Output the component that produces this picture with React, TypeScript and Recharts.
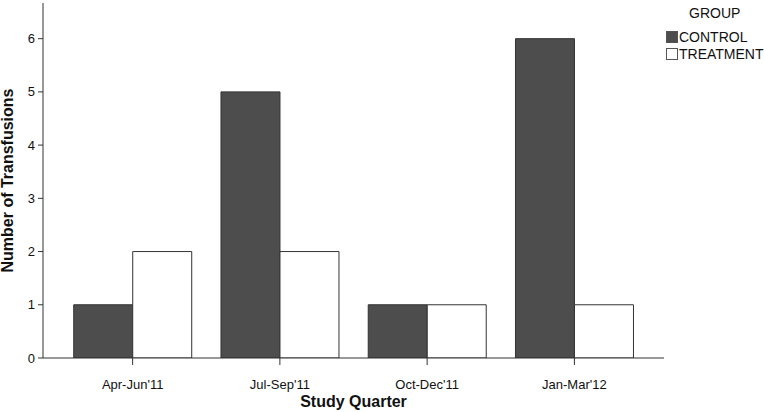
import React from 'react';
import { BarChart, Bar, XAxis, YAxis } from 'recharts';

const quarters = ["Apr-Jun'11", "Jul-Sep'11", "Oct-Dec'11", "Jan-Mar'12"];
const control = [1, 5, 1, 6];
const treatment = [2, 2, 1, 1];
const yTicks = [0, 1, 2, 3, 4, 5, 6];

const data = quarters.map((q, i) => ({ quarter: q, control: control[i], treatment: treatment[i] }));

const font = 'Arial, "Liberation Sans", sans-serif';

const GroupLegend = () => (
  <div style={{ position: 'absolute', left: 664, top: 5, fontFamily: font, fontSize: 14, color: '#111' }}>
    <div style={{ position: 'absolute', left: 25, top: 0, whiteSpace: 'nowrap' }}>GROUP</div>
    {[
      { label: 'CONTROL', fill: '#4d4d4d', top: 24 },
      { label: 'TREATMENT', fill: '#ffffff', top: 41 },
    ].map((g) => (
      <div key={g.label} style={{ position: 'absolute', left: 2, top: g.top, display: 'flex', alignItems: 'center', whiteSpace: 'nowrap' }}>
        <span style={{ width: 10, height: 10, background: g.fill, border: '1px solid #555', display: 'inline-block', marginRight: 1 }} />
        <span>{g.label}</span>
      </div>
    ))}
  </div>
);

export default function App() {
  return (
    <div style={{ position: 'absolute', left: 0, top: 0, width: 764, height: 412, background: '#fff' }}>
      <BarChart
        width={764}
        height={412}
        data={data}
        margin={{ top: 3, right: 100, bottom: 0, left: 0 }}
        barCategoryGap="10%"
        barGap={0}
        style={{ fontFamily: font }}
      >
        <XAxis
          dataKey="quarter"
          height={54}
          padding={{ left: 16, right: 16 }}
          tickSize={7}
          tickMargin={15}
          tick={{ fontSize: 13, fill: '#111' }}
          axisLine={{ stroke: '#333' }}
          tickLine={{ stroke: '#333' }}
          label={{ value: 'Study Quarter', position: 'insideBottom', offset: 5, style: { fontSize: 16, fontWeight: 'bold', fill: '#111' } }}
        />
        <XAxis xAxisId="top" dataKey="quarter" orientation="top" height={0} tick={false} tickLine={false} axisLine={{ stroke: '#888' }} />
        <YAxis
          width={43}
          domain={[0, 6.67]}
          ticks={yTicks}
          allowDataOverflow
          tickSize={5}
          tickMargin={3}
          tick={{ fontSize: 13, fill: '#111' }}
          axisLine={{ stroke: '#333' }}
          tickLine={{ stroke: '#333' }}
          label={{ value: 'Number of Transfusions', angle: -90, position: 'insideLeft', offset: 7, style: { textAnchor: 'middle', fontSize: 16, fontWeight: 'bold', fill: '#111' } }}
        />
        <YAxis yAxisId="right" orientation="right" width={0} domain={[0, 6.67]} tick={false} tickLine={false} axisLine={{ stroke: '#888' }} />
        <Bar dataKey="control" name="CONTROL" fill="#4d4d4d" stroke="#333" strokeWidth={1} isAnimationActive={false} />
        <Bar dataKey="treatment" name="TREATMENT" fill="#ffffff" stroke="#333" strokeWidth={1} isAnimationActive={false} />
      </BarChart>
      <GroupLegend />
    </div>
  );
}
